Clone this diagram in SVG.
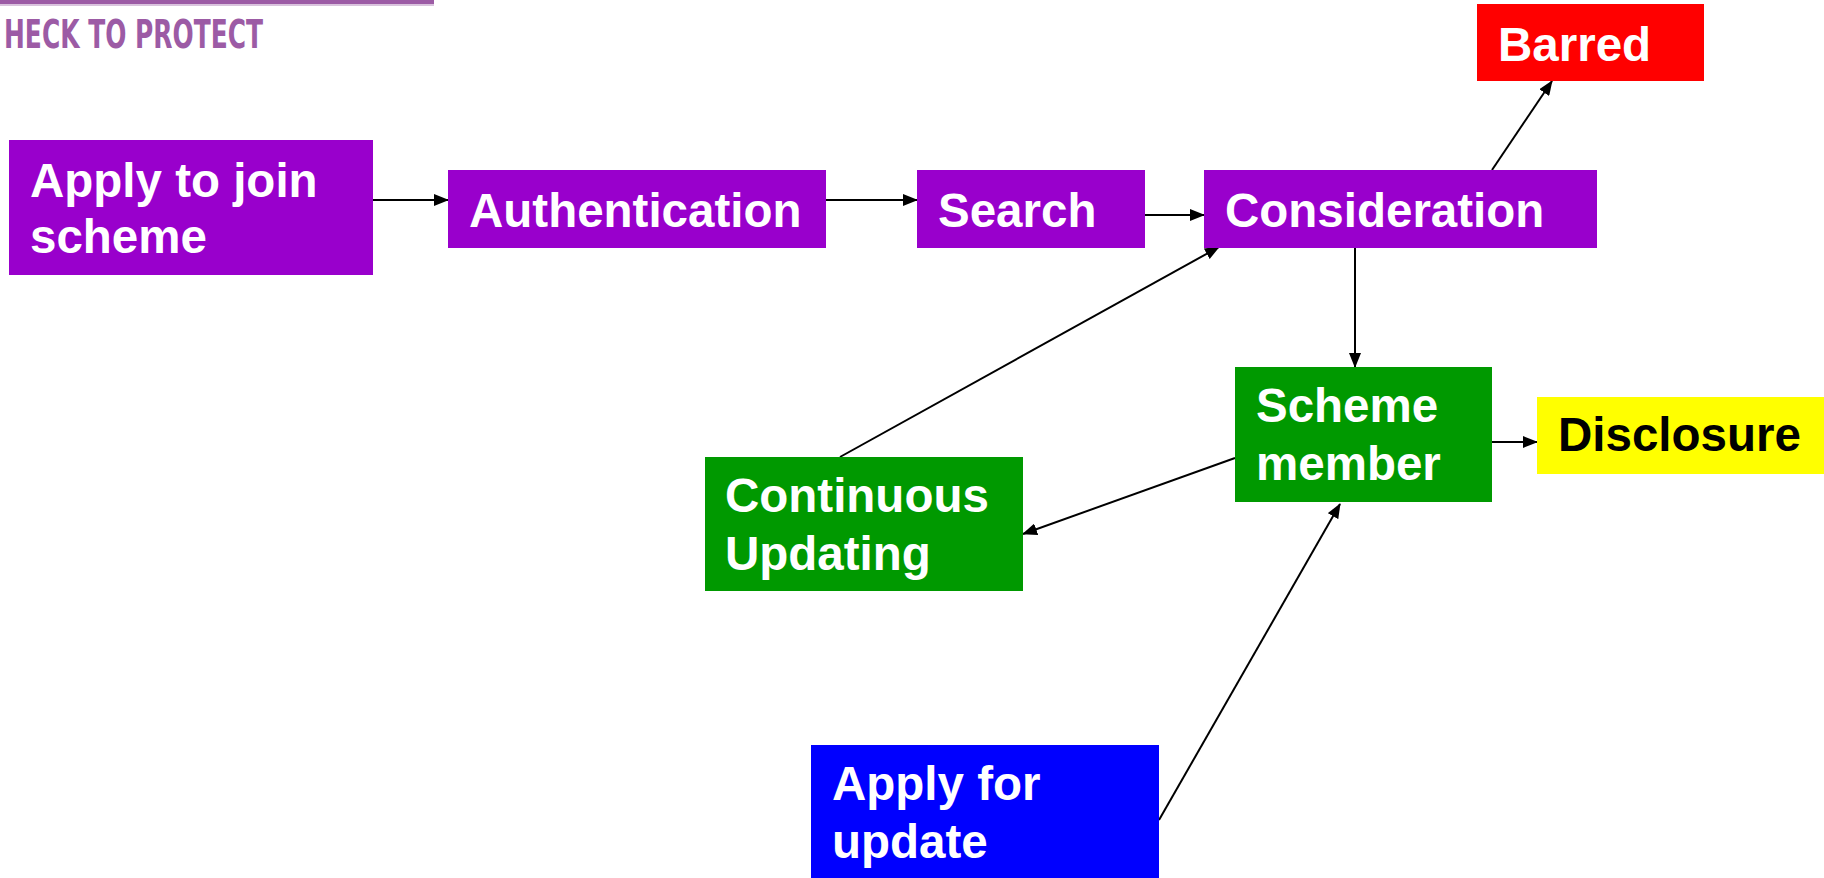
<svg xmlns="http://www.w3.org/2000/svg" width="1824" height="878" viewBox="0 0 1824 878">
<style>
.lbl{font-family:"Liberation Sans",Arial,sans-serif;font-weight:bold;font-size:47.5px;fill:#fff}
.dark{fill:#000}
.con{stroke:#000;stroke-width:2;fill:none;marker-end:url(#ah)}
.hdr{font-family:"DejaVu Sans Condensed","DejaVu Sans",sans-serif;font-weight:bold;font-size:39px;fill:#9C5BA5}
</style>
<defs>
<marker id="ah" viewBox="0 0 15 12" refX="14" refY="6" markerWidth="15" markerHeight="12" markerUnits="userSpaceOnUse" orient="auto">
<path d="M0,0 L15,6 L0,12 z" fill="#000"/>
</marker>
</defs>
<rect width="1824" height="878" fill="#fff"/>
<g id="header">
<rect x="0" y="0" width="434" height="4" fill="#9C5BA5"/>
<rect x="0" y="4" width="434" height="2" fill="#D9C3DD"/>
<text class="hdr" x="4" y="48" textLength="259" lengthAdjust="spacingAndGlyphs">HECK TO PROTECT</text>
</g>
<g id="connectors">
<line class="con" x1="373" y1="200" x2="448" y2="200"/>
<line class="con" x1="826" y1="200" x2="917" y2="200"/>
<line class="con" x1="1145" y1="215" x2="1204" y2="215"/>
<line class="con" x1="1492" y1="170" x2="1552" y2="81"/>
<line class="con" x1="1355" y1="248" x2="1355" y2="367"/>
<line class="con" x1="1492" y1="442" x2="1537" y2="442"/>
<line class="con" x1="1235" y1="458" x2="1023" y2="534"/>
<line class="con" x1="840" y1="457" x2="1219" y2="247"/>
<line class="con" x1="1159" y1="820" x2="1340" y2="504"/>
</g>
<g id="apply-join">
<rect x="9" y="140" width="364" height="135" fill="#9900CC"/>
<text class="lbl" x="30" y="197">Apply to join</text>
<text class="lbl" x="30" y="253">scheme</text>
</g>
<g id="authentication">
<rect x="448" y="170" width="378" height="78" fill="#9900CC"/>
<text class="lbl" x="469" y="227">Authentication</text>
</g>
<g id="search">
<rect x="917" y="170" width="228" height="78" fill="#9900CC"/>
<text class="lbl" x="938" y="227">Search</text>
</g>
<g id="consideration">
<rect x="1204" y="170" width="393" height="78" fill="#9900CC"/>
<text class="lbl" x="1225" y="227">Consideration</text>
</g>
<g id="barred">
<rect x="1477" y="4" width="227" height="77" fill="#FF0000"/>
<text class="lbl" x="1498" y="61">Barred</text>
</g>
<g id="scheme-member">
<rect x="1235" y="367" width="257" height="135" fill="#009900"/>
<text class="lbl" x="1256" y="422">Scheme</text>
<text class="lbl" x="1256" y="480">member</text>
</g>
<g id="disclosure">
<rect x="1537" y="397" width="287" height="77" fill="#FFFF00"/>
<text class="lbl dark" x="1558" y="451">Disclosure</text>
</g>
<g id="continuous-updating">
<rect x="705" y="457" width="318" height="134" fill="#009900"/>
<text class="lbl" x="725" y="512">Continuous</text>
<text class="lbl" x="725" y="570">Updating</text>
</g>
<g id="apply-update">
<rect x="811" y="745" width="348" height="133" fill="#0000FF"/>
<text class="lbl" x="832" y="800">Apply for</text>
<text class="lbl" x="832" y="858">update</text>
</g>
</svg>
